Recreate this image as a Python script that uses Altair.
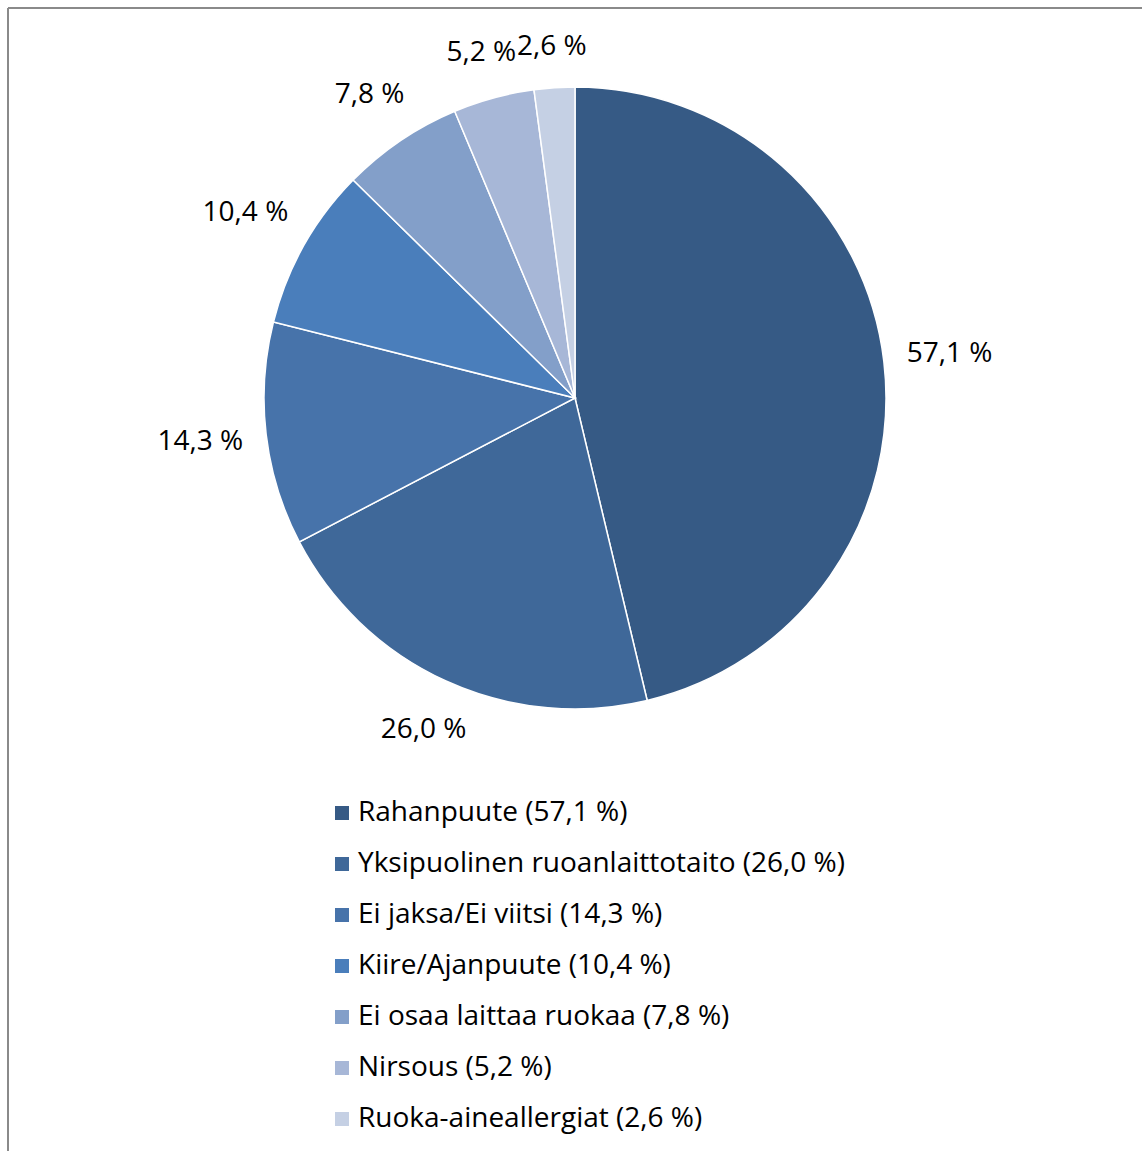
import altair as alt
import pandas as pd

categories = [
    "Rahanpuute",
    "Yksipuolinen ruoanlaittotaito",
    "Ei jaksa/Ei viitsi",
    "Kiire/Ajanpuute",
    "Ei osaa laittaa ruokaa",
    "Nirsous",
    "Ruoka-aineallergiat",
]
values = [57.1, 26.0, 14.3, 10.4, 7.8, 5.2, 2.6]
colors = ["#365A85", "#3F6899", "#4773AA", "#4A7EBB", "#839FC9", "#A7B7D7", "#C5D0E4"]


def fi(v):
    return f"{v:.1f}".replace(".", ",") + " %"


legend_labels = [f"{c} ({fi(v)})" for c, v in zip(categories, values)]
df = pd.DataFrame({
    "cat": legend_labels,
    "value": values,
    "label": [fi(v) for v in values],
    "order": list(range(len(values))),
})

FONT = "Open Sans"
W, H = 1134, 1143
CX, CY = 567, 390
R = 311

pie = alt.Chart(df).mark_arc(outerRadius=R, stroke="white", strokeWidth=1.5, x=CX, y=CY).encode(
    theta=alt.Theta("value:Q", stack=True),
    order=alt.Order("order:Q"),
    color=alt.Color(
        "cat:N",
        scale=alt.Scale(domain=legend_labels, range=colors),
        legend=alt.Legend(
            title=None,
            orient="none",
            legendX=320,
            legendY=791,
            symbolType="square",
            symbolSize=196,
            symbolStrokeWidth=0,
            labelFontSize=28,
            labelFont=FONT,
            labelColor="black",
            labelOffset=2,
            rowPadding=23,
            labelLimit=800,
            padding=0,
        ),
    ),
)

# label at the middle angle of its slice; box edge kept a fixed gap outside the pie
labels = (
    alt.Chart(df)
    .transform_window(cum="sum(value)", sort=[alt.SortField("order")])
    .transform_joinaggregate(total="sum(value)")
    .transform_calculate(ang="(datum.cum - datum.value/2) / datum.total * 2 * PI")
    .transform_calculate(
        r=f"{R + 22} + 7.1*length(datum.label)*abs(sin(datum.ang)) + 16*abs(cos(datum.ang))"
    )
    .mark_text(fontSize=28, font=FONT, color="black", x=CX, y=CY)
    .encode(
        text="label:N",
        theta=alt.Theta("ang:Q", scale=None),
        radius=alt.Radius("r:Q", scale=None),
    )
)

frame_v = alt.Chart(df).mark_rule(color="#8a8a8a", strokeWidth=2).encode(
    x=alt.value(0), y=alt.value(0), y2=alt.value(H)
)
frame_h = alt.Chart(df).mark_rule(color="#8a8a8a", strokeWidth=2).encode(
    x=alt.value(0), x2=alt.value(W), y=alt.value(0)
)

chart = (
    alt.layer(pie, labels, frame_v, frame_h)
    .properties(width=W, height=H, padding={"left": 8, "top": 8, "right": 0, "bottom": 0})
    .configure_view(stroke=None)
    .configure(autosize=alt.AutoSizeParams(type="none"))
)

chart.save("out.html", embed_options={"renderer": "svg", "actions": False})
